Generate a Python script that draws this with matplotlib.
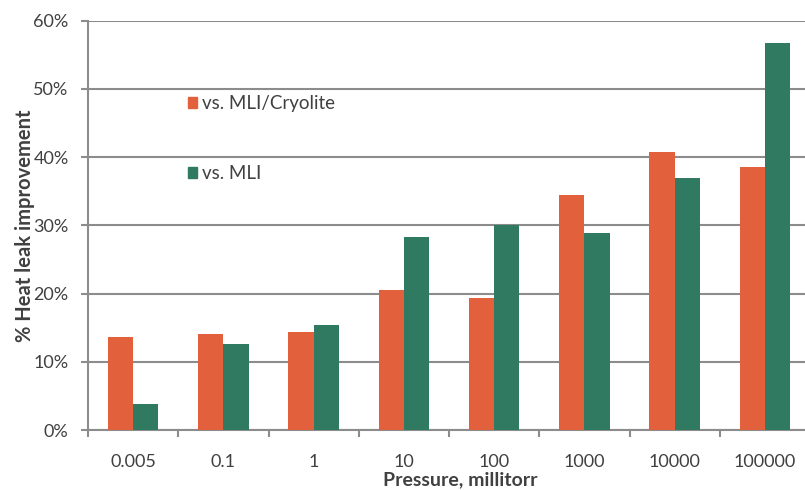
import numpy as np
import matplotlib.pyplot as plt
from matplotlib.patches import Patch
from matplotlib.ticker import PercentFormatter

plt.rcParams['font.family'] = ['Lato', 'DejaVu Sans']

pressures = ['0.005', '0.1', '1', '10', '100', '1000', '10000', '100000']
vs_mli_cryolite = [13.7, 14.0, 14.3, 20.5, 19.4, 34.5, 40.8, 38.6]
vs_mli = [3.8, 12.6, 15.4, 28.3, 30.0, 28.9, 37.0, 56.8]

orange = '#E2603C'
green = '#2F7A60'
grid_grey = '#8C8C8C'
text_col = '#404040'

fig = plt.figure(figsize=(8.05, 4.9), dpi=100)
W, H = 805, 490
# plot area runs off the right edge, like the cropped original
ax = fig.add_axes([88 / W, (H - 430) / H, 722 / W, 409.3 / H])

x = np.arange(len(pressures))
w = 0.28
ax.bar(x - w / 2, vs_mli_cryolite, w, color=orange, zorder=3)
ax.bar(x + w / 2, vs_mli, w, color=green, zorder=3)

ax.set_xlim(-0.5, len(pressures) - 0.5)
ax.set_ylim(0, 60)
ax.set_yticks(np.arange(0, 61, 10))
ax.yaxis.set_major_formatter(PercentFormatter(decimals=0))
ax.grid(axis='y', color=grid_grey, linewidth=1.5, zorder=0)

# category boundaries as ticks, labels at the centres
ax.set_xticks(np.arange(-0.5, len(pressures), 1.0))
ax.set_xticklabels([])
ax.set_xticks(x, minor=True)
ax.set_xticklabels(pressures, minor=True)
ax.tick_params(axis='x', which='major', length=5, width=1.5, color=grid_grey, direction='out')
ax.tick_params(axis='x', which='minor', length=0, pad=17, labelsize=13, labelcolor=text_col)
ax.tick_params(axis='y', length=5, width=1.5, color=grid_grey, pad=9, labelsize=13, labelcolor=text_col)

for s in ['top', 'right']:
    ax.spines[s].set_visible(False)
for s in ['left', 'bottom']:
    ax.spines[s].set_color(grid_grey)
    ax.spines[s].set_linewidth(1.5)

ax.set_ylabel('% Heat leak improvement', fontsize=14.5, fontweight='bold', color=text_col, labelpad=-1)
fig.text(460 / W, 1 - 480 / H, 'Pressure, millitorr', fontsize=14, fontweight='bold',
         color=text_col, ha='center', va='center')

handles = [Patch(color=orange, label='vs. MLI/Cryolite'), Patch(color=green, label='vs. MLI')]
fig.legend(handles=handles, loc='upper left', bbox_to_anchor=(188 / W, 1 - 95 / H),
           frameon=False, borderpad=0, borderaxespad=0, handlelength=0.5, handleheight=0.5,
           handletextpad=0.25, labelspacing=2.85, fontsize=13.5, labelcolor=text_col)

fig.savefig('out.png', dpi=100)
